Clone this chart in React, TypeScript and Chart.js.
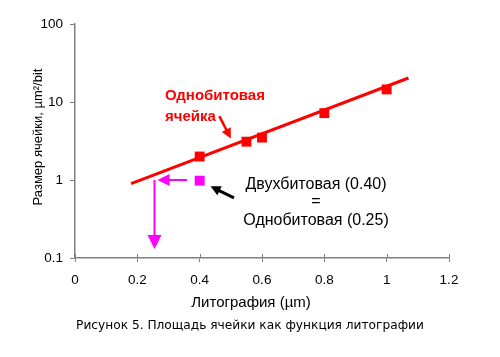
import React, { useEffect, useRef } from "react";
import { Chart, registerables } from "chart.js";

Chart.register(...registerables);

const litography = [0.4, 0.55, 0.6, 0.8, 1.0];
const cellSize = [2.0, 3.1, 3.5, 7.2, 14.5];
const fitX = [0.18, 1.07];
const fitY = [0.9, 20.3];
const twoBitX = [0.4];
const twoBitY = [0.98];
const hArrowX = [0.36, 0.265];
const hArrowY = [1.0, 1.0];
const vArrowX = [0.255, 0.255];
const vArrowY = [1.0, 0.13];
const blackArrowX = [0.51, 0.435];
const blackArrowY = [0.59, 0.83];
const redArrowX = [0.463, 0.5];
const redArrowY = [6.6, 3.4];
const xTicks = [0, 0.2, 0.4, 0.6, 0.8, 1, 1.2];
const yTicks = [0.1, 1, 10, 100];
const yTitle = "Размер ячейки, µm²/bit";
const xTitle = "Литография (µm)";
const caption = "Рисунок 5. Площадь ячейки как функция литографии";
const redLabel = ["Однобитовая", "ячейка"];
const blackLabel = ["Двухбитовая (0.40)", "=", "Однобитовая (0.25)"];

const FONT = "'Liberation Sans', Arial, sans-serif";

function arrowHead(ctx: CanvasRenderingContext2D, x1: number, y1: number, x2: number, y2: number, len: number, half: number, color: string) {
  const a = Math.atan2(y2 - y1, x2 - x1);
  ctx.save();
  ctx.fillStyle = color;
  ctx.beginPath();
  ctx.moveTo(x2, y2);
  ctx.lineTo(x2 - len * Math.cos(a) + half * Math.sin(a), y2 - len * Math.sin(a) - half * Math.cos(a));
  ctx.lineTo(x2 - len * Math.cos(a) - half * Math.sin(a), y2 - len * Math.sin(a) + half * Math.cos(a));
  ctx.closePath();
  ctx.fill();
  ctx.restore();
}

function drawArrow(chart: any, xs: number[], ys: number[], color: string, width: number, len: number, half: number) {
  const ctx = chart.ctx as CanvasRenderingContext2D;
  const sx = chart.scales.x, sy = chart.scales.y;
  const x1 = sx.getPixelForValue(xs[0]), y1 = sy.getPixelForValue(ys[0]);
  const x2 = sx.getPixelForValue(xs[1]), y2 = sy.getPixelForValue(ys[1]);
  const a = Math.atan2(y2 - y1, x2 - x1);
  ctx.save();
  ctx.strokeStyle = color;
  ctx.lineWidth = width;
  ctx.beginPath();
  ctx.moveTo(x1, y1);
  ctx.lineTo(x2 - (len - 1) * Math.cos(a), y2 - (len - 1) * Math.sin(a));
  ctx.stroke();
  ctx.restore();
  arrowHead(ctx, x1, y1, x2, y2, len, half, color);
}

const annotations = {
  id: "annotations",
  afterDatasetsDraw(chart: any) {
    const ctx = chart.ctx as CanvasRenderingContext2D;
    const sx = chart.scales.x, sy = chart.scales.y;
    drawArrow(chart, hArrowX, hArrowY, "#ff00ff", 2, 12, 6);
    drawArrow(chart, vArrowX, vArrowY, "#ff00ff", 2, 14, 7);
    drawArrow(chart, blackArrowX, blackArrowY, "#000000", 3, 10, 5);
    drawArrow(chart, redArrowX, redArrowY, "#ff0000", 2.5, 10, 5);
    ctx.save();
    ctx.fillStyle = "#ff0000";
    ctx.font = "bold 15px " + FONT;
    ctx.textAlign = "left";
    ctx.textBaseline = "middle";
    ctx.fillText(redLabel[0], 165, 96);
    ctx.fillText(redLabel[1], 165, 117);
    ctx.fillStyle = "#000000";
    ctx.textAlign = "center";
    ctx.font = "16px " + FONT;
    ctx.fillText(blackLabel[0], 316, 185);
    ctx.fillText(blackLabel[1], 316, 202);
    ctx.fillText(blackLabel[2], 316, 221);
    ctx.font = "15px " + FONT;
    ctx.fillText(xTitle, 251, 303);
    ctx.font = "12.2px 'DejaVu Sans', sans-serif";
    ctx.fillText(caption, 250, 326);
    ctx.translate(38.5, 137);
    ctx.rotate(-Math.PI / 2);
    ctx.font = "13px " + FONT;
    ctx.fillText(yTitle, 0, 0);
    ctx.restore();
    // tick marks crossing the x axis
    ctx.save();
    ctx.strokeStyle = "#808080";
    ctx.lineWidth = 1;
    xTicks.forEach((t) => {
      const px = Math.round(sx.getPixelForValue(t)) + 0.5;
      ctx.beginPath();
      ctx.moveTo(px, sy.bottom - 4);
      ctx.lineTo(px, sy.bottom);
      ctx.stroke();
    });
    ctx.restore();
  },
};

export default function App() {
  const ref = useRef<HTMLCanvasElement>(null);
  useEffect(() => {
    if (!ref.current) return;
    const chart = new Chart(ref.current, {
      type: "scatter",
      data: {
        datasets: [
          {
            data: fitX.map((x, i) => ({ x, y: fitY[i] })),
            showLine: true,
            borderColor: "#ff0000",
            borderWidth: 3,
            pointRadius: 0,
          },
          {
            data: litography.map((x, i) => ({ x, y: cellSize[i] })),
            pointStyle: "rect",
            pointRadius: 7,
            backgroundColor: "#ff0000",
            borderColor: "#ff0000",
            borderWidth: 0,
          },
          {
            data: twoBitX.map((x, i) => ({ x, y: twoBitY[i] })),
            pointStyle: "rect",
            pointRadius: 7,
            backgroundColor: "#ff00ff",
            borderColor: "#ff00ff",
            borderWidth: 0,
          },
        ],
      },
      options: {
        responsive: false,
        animation: false,
        layout: { padding: { top: 24, right: 51, left: 0, bottom: 0 } },
        plugins: { legend: { display: false }, tooltip: { enabled: false } },
        scales: {
          x: {
            type: "linear",
            min: 0,
            max: 1.2,
            afterBuildTicks: (s: any) => {
              s.ticks = xTicks.map((v) => ({ value: v }));
            },
            afterFit: (s: any) => {
              s.height = 357 - 258;
            },
            grid: { drawOnChartArea: false, drawTicks: true, tickLength: 4, color: "#808080" },
            border: { display: true, color: "#808080", width: 1.5 },
            ticks: {
              color: "#000",
              padding: 10,
              font: { family: FONT, size: 13.5 },
              callback: (v: any) => String(v),
              maxRotation: 0,
            },
          },
          y: {
            type: "logarithmic",
            min: 0.1,
            max: 100,
            afterBuildTicks: (s: any) => {
              s.ticks = yTicks.map((v) => ({ value: v }));
            },
            afterFit: (s: any) => {
              s.width = 75;
            },
            grid: { drawOnChartArea: false, drawTicks: true, tickLength: 5, color: "#808080" },
            border: { display: true, color: "#808080", width: 1.5 },
            ticks: {
              color: "#000",
              padding: 7,
              font: { family: FONT, size: 13.5 },
              callback: (v: any) => String(v),
            },
          },
        },
      },
      plugins: [annotations],
    });
    return () => chart.destroy();
  }, []);
  return (
    <div style={{ position: "fixed", left: 0, top: 0, width: 500, height: 357, background: "#fff" }}>
      <canvas ref={ref} width={500} height={357} />
    </div>
  );
}
